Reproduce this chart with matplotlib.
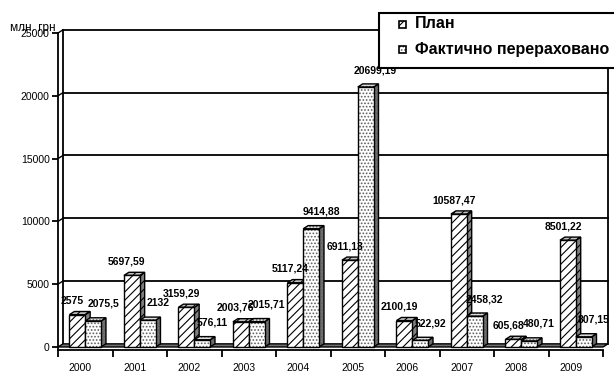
import numpy as np
import matplotlib.pyplot as plt
from matplotlib.patches import Polygon, Rectangle
from matplotlib.transforms import ScaledTranslation

years = ["2000", "2001", "2002", "2003", "2004", "2005", "2006", "2007", "2008", "2009"]
plan = [2575, 5697.59, 3159.29, 2003.76, 5117.24, 6911.13, 2100.19, 10587.47, 605.68, 8501.22]
fact = [2075.5, 2132, 576.11, 2015.71, 9414.88, 20699.19, 522.92, 2458.32, 480.71, 807.15]
series_names = ["План", "Фактично перераховано"]
y_ticks = [0, 5000, 10000, 15000, 20000, 25000]
unit_label = "млн. грн"

plt.rcParams["font.family"] = ["Liberation Sans", "DejaVu Sans"]
plt.rcParams["hatch.linewidth"] = 0.8

W = 0.29    # bar width
DX = 0.09   # 3d depth, x units
DY = 250    # 3d depth, y units


def fmt(v):
    return f"{v:.2f}".rstrip("0").rstrip(".").replace(".", ",")


def face(ax, pts, fc, hatch, hc, z):
    ax.add_patch(Polygon(pts, closed=True, facecolor=fc, edgecolor=hc,
                         hatch=hatch, lw=0, zorder=z))
    ax.add_patch(Polygon(pts, closed=True, fill=False, edgecolor="black",
                         lw=1.0, zorder=z))


def bar3d(ax, xc, v, front_fc, side_fc, top_fc, hatch, hc, z):
    xl, xr = xc - W / 2, xc + W / 2
    face(ax, [(xr, 0), (xr + DX, DY), (xr + DX, v + DY), (xr, v)], side_fc, hatch, hc, z)
    face(ax, [(xl, v), (xr, v), (xr + DX, v + DY), (xl + DX, v + DY)], top_fc, hatch, hc, z)
    ax.bar(xc, v, W, facecolor=front_fc, edgecolor=hc, hatch=hatch, lw=0, zorder=z)
    ax.bar(xc, v, W, fill=False, edgecolor="black", lw=1.0, zorder=z)


fig = plt.figure(figsize=(6.14, 3.72), dpi=100)
ax = fig.add_axes([58 / 614, 22.5 / 372, 550.5 / 614, 321.5 / 372])
ax.set_xlim(-0.5, 9.6)
ax.set_ylim(-200, 25400)

for side in ["top", "right"]:
    ax.spines[side].set_visible(False)
ax.spines["left"].set_bounds(-200, 25000)
ax.spines["bottom"].set_bounds(-0.5, 9.5)
ax.spines["left"].set_linewidth(1.3)
ax.spines["bottom"].set_linewidth(1.3)

# back wall
x0, x1 = -0.5 + DX, 9.5 + DX
for y in y_ticks[1:]:
    ax.plot([x0, x1], [y + DY, y + DY], color="black", lw=1.3, zorder=1)
    ax.plot([-0.5, x0], [y, y + DY], color="black", lw=1.0, zorder=1)
ax.plot([x0, x0], [DY, 25000 + DY], color="black", lw=1.3, zorder=1)
ax.plot([x1, x1], [DY, 25000 + DY], color="black", lw=1.3, zorder=1)

# floor
ax.add_patch(Polygon([(-0.5, 0), (9.5, 0), (x1, DY), (x0, DY)], closed=True,
                     facecolor="#707070", edgecolor="black", lw=1.0, zorder=2))

for i in range(len(years)):
    bar3d(ax, i - W / 2, plan[i], "white", "#808080", "#c0c0c0", "////", "black", 3 + i * 2)
    bar3d(ax, i + W / 2, fact[i], "white", "#707070", "#e0e0e0", ".....", "#606060", 4 + i * 2)
    ax.annotate(fmt(plan[i]), (i - W / 2, plan[i]), xytext=(-5, 14),
                textcoords="offset pixels", ha="center", va="center",
                fontsize=7.5, fontweight="bold", zorder=100)
    ax.annotate(fmt(fact[i]), (i + W / 2, fact[i]), xytext=(10, 17),
                textcoords="offset pixels", ha="center", va="center",
                fontsize=7.5, fontweight="bold", zorder=100)

ax.set_yticks(y_ticks)
ax.set_yticklabels([str(t) for t in y_ticks])
ax.tick_params(axis="y", length=4, width=1.3, pad=2, labelsize=7.5)

ax.set_xticks(range(len(years)))
ax.set_xticklabels(years)
ax.set_xticks(np.arange(-0.5, 10), minor=True)
ax.tick_params(axis="x", which="major", length=0, pad=10, labelsize=7.5)
ax.tick_params(axis="x", which="minor", length=5, width=1.3)
for lab in ax.get_xticklabels():
    lab.set_transform(lab.get_transform() + ScaledTranslation(-0.05, 0, fig.dpi_scale_trans))

fig.text(10 / 614, 1 - 28 / 372, unit_label, fontsize=8.5, ha="left", va="center")

# legend
fig.patches.append(Rectangle((379 / 614, 1 - 68 / 372), 300 / 614, 55 / 372,
                             transform=fig.transFigure, facecolor="white",
                             edgecolor="black", lw=1.5, zorder=10))
leg_styles = [("white", "////", "black"), ("white", ".....", "#606060")]
for k, (name, (fc, h, hc)) in enumerate(zip(series_names, leg_styles)):
    yc = 1 - (24 + k * 25.5) / 372
    fig.patches.append(Rectangle((399 / 614, yc - 3.5 / 372), 7 / 614, 7 / 372,
                                 transform=fig.transFigure, facecolor=fc,
                                 edgecolor=hc, hatch=h, lw=0, zorder=11))
    fig.patches.append(Rectangle((399 / 614, yc - 3.5 / 372), 7 / 614, 7 / 372,
                                 transform=fig.transFigure, fill=False,
                                 edgecolor="black", lw=1.2, zorder=12))
    fig.text(415 / 614, yc, name, fontsize=11.5, fontweight="bold",
             ha="left", va="center", zorder=13)

fig.savefig("out.png", dpi=100)
